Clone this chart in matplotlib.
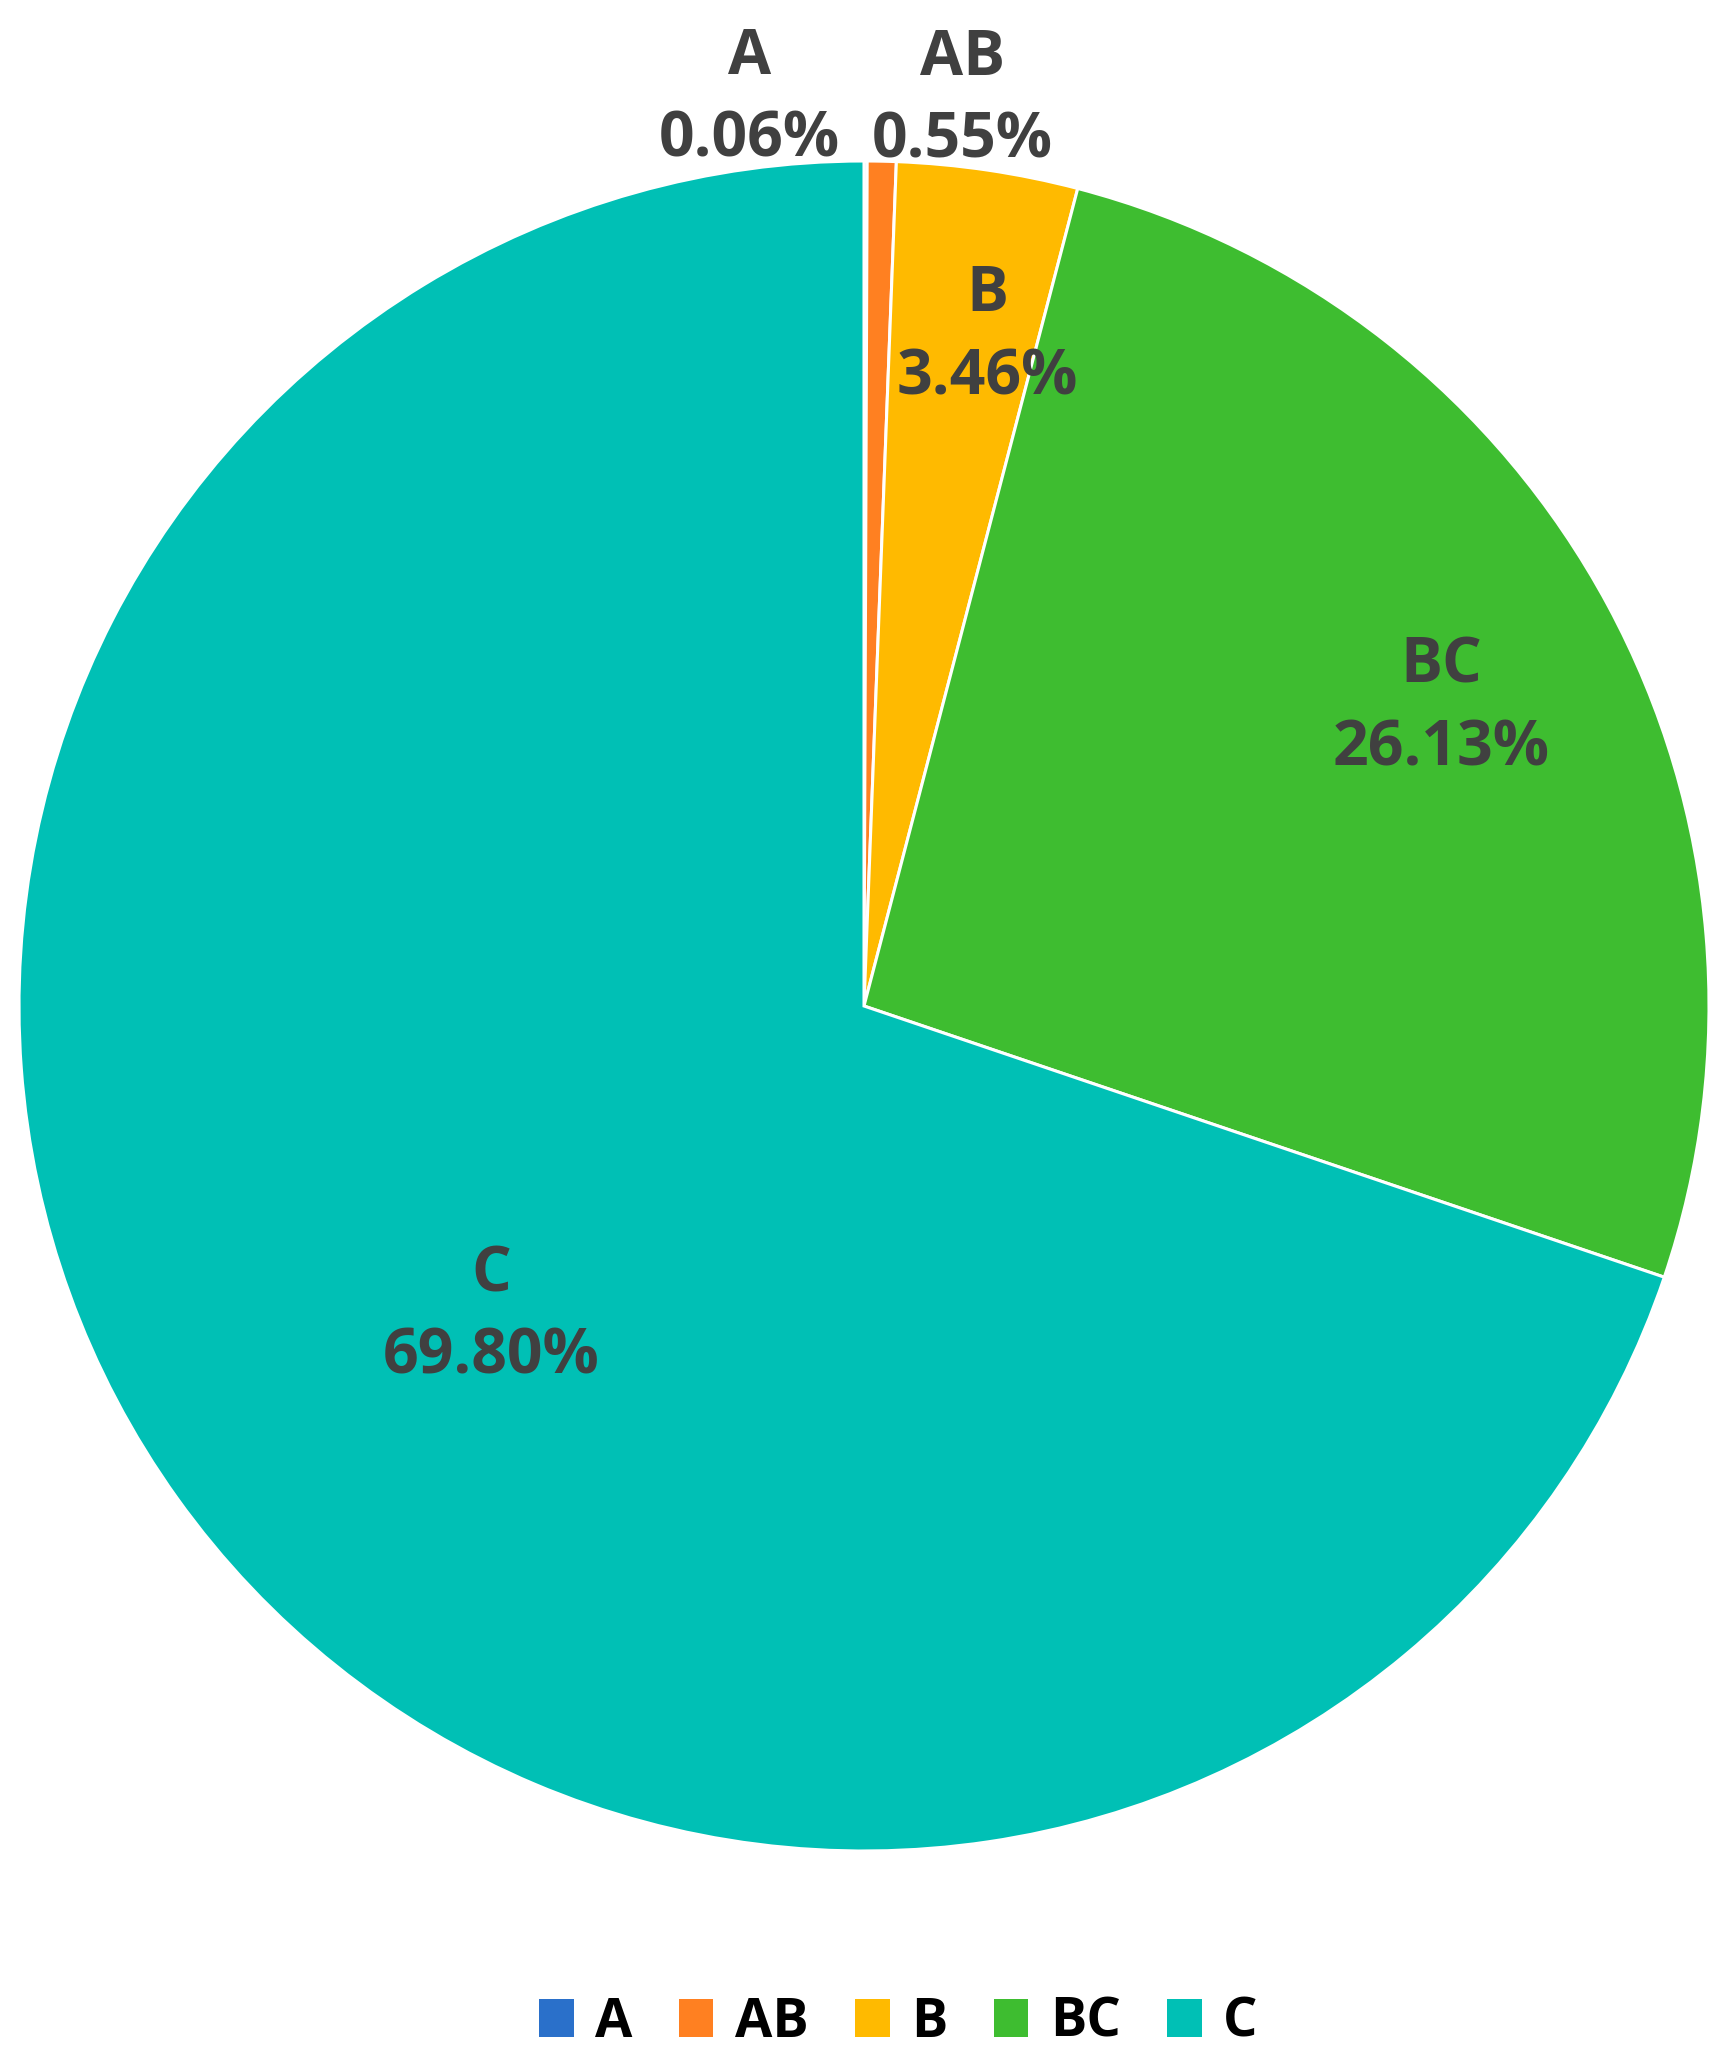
import numpy as np
import matplotlib
matplotlib.use("Agg")
import matplotlib.pyplot as plt
from matplotlib.patches import Patch

# data
categories = ["A", "AB", "B", "BC", "C"]
shares = [0.06, 0.55, 3.46, 26.13, 69.80]
colors = ["#2A70CA", "#FF8021", "#FFBA00", "#3EBD30", "#00C0B5"]

# label placement: distance from centre (radius units) and angle shift (degrees)
label_dist = [1.082, 1.079, 0.806, 0.769, 0.574]
label_shift = [7.3, -5.0, -2.0, -1.0, 4.1]

plt.rcParams["font.family"] = ["Open Sans", "DejaVu Sans"]

W, H = 1731, 2068
cx, cy, R = 864, 1006, 845

fig = plt.figure(figsize=(W / 100, H / 100), dpi=100)
ax = fig.add_axes([0, 0, 1, 1])

wedges, _ = ax.pie(shares, colors=colors, startangle=90, counterclock=False,
                   wedgeprops=dict(edgecolor="white", linewidth=2.2))

ax.set_xlim(-cx / R, (W - cx) / R)
ax.set_ylim(-(H - cy) / R, cy / R)
ax.set_aspect("auto")
ax.axis("off")

# labels: category name above percentage
for w, name, val, d, s in zip(wedges, categories, shares, label_dist, label_shift):
    mid = np.deg2rad((w.theta1 + w.theta2) / 2 + s)
    x, y = d * np.cos(mid), d * np.sin(mid)
    ax.text(x, y + 0.049, name, ha="center", va="center", fontsize=45,
            fontweight="bold", color="#404040")
    ax.text(x, y - 0.049, f"{val:.2f}%", ha="center", va="center", fontsize=45,
            fontweight="bold", color="#404040")

handles = [Patch(facecolor=c, edgecolor="none") for c in colors]
fig.legend(handles, categories, loc="center", bbox_to_anchor=(0.519, 0.0218),
           ncol=5, frameon=False, prop=dict(weight="bold", size=39),
           handlelength=0.64, handleheight=0.69, handletextpad=0.4,
           columnspacing=0.85, labelcolor="black")

fig.savefig("out.png", dpi=100, facecolor="white")
